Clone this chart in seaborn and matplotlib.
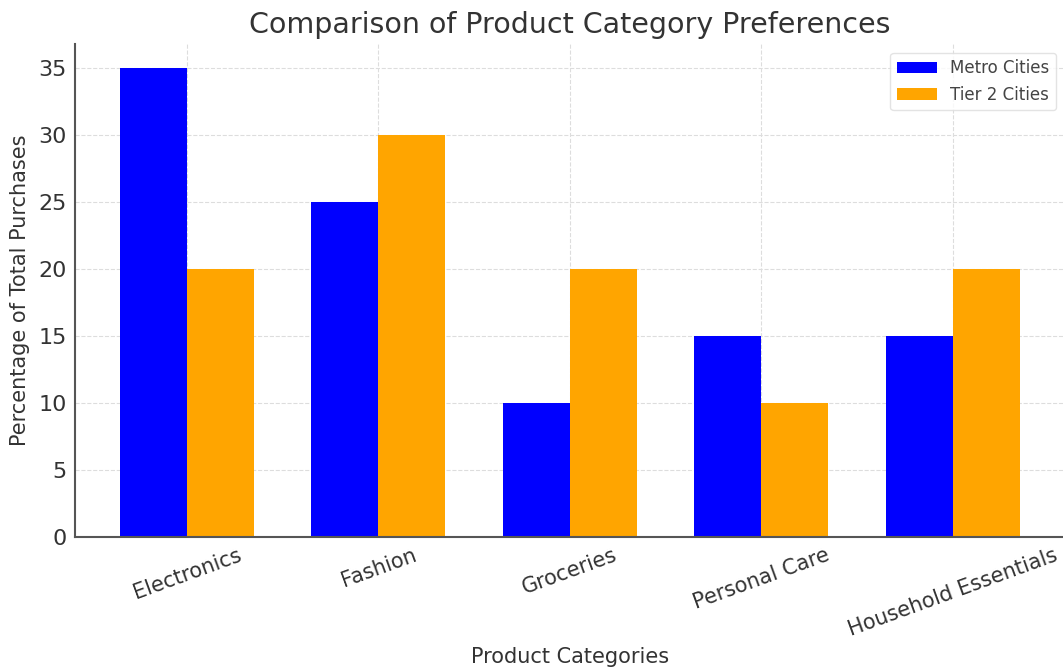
import pandas as pd
import matplotlib.pyplot as plt
import seaborn as sns

# data
categories = ["Electronics", "Fashion", "Groceries", "Personal Care", "Household Essentials"]
metro = [35, 25, 10, 15, 15]
tier2 = [20, 30, 20, 10, 20]

df = pd.DataFrame({
    "Category": categories * 2,
    "Percent": metro + tier2,
    "City": ["Metro Cities"] * len(categories) + ["Tier 2 Cities"] * len(categories),
})

sns.set_theme(style="whitegrid")
plt.rcParams["font.family"] = ["DejaVu Sans"]

fig = plt.figure(figsize=(10.63, 6.7), dpi=100)
ax = fig.add_axes([0.0706, 0.1985, 0.931, 0.7355])

sns.barplot(data=df, x="Category", y="Percent", hue="City",
            palette={"Metro Cities": "#0000FF", "Tier 2 Cities": "#FFA500"},
            width=0.7, saturation=1, linewidth=0, ax=ax, zorder=2)

ax.set_xlim(-0.585, 4.585)
ax.set_ylim(0, 36.75)
ax.set_yticks(range(0, 36, 5))
ax.grid(True, linestyle="--", color="#dddddd", linewidth=0.8, zorder=0)
ax.set_axisbelow(True)

for side in ["top", "right"]:
    ax.spines[side].set_visible(False)
for side in ["left", "bottom"]:
    ax.spines[side].set_color("#555555")
    ax.spines[side].set_linewidth(1.5)

ax.tick_params(axis="y", labelsize=16, colors="#333333", length=0, pad=6)
ax.tick_params(axis="x", labelsize=15, colors="#333333", length=0, pad=6)
plt.setp(ax.get_xticklabels(), rotation=20, ha="center")

ax.set_title("Comparison of Product Category Preferences", fontsize=20.5, color="#333333", pad=8)
ax.set_xlabel("Product Categories", fontsize=15, color="#333333", labelpad=5)
ax.set_ylabel("Percentage of Total Purchases", fontsize=15, color="#333333", labelpad=6)

leg = ax.legend(loc="upper right", fontsize=12, frameon=True, title=None,
                handlelength=2.4)
leg.get_frame().set_edgecolor("#dddddd")
for t in leg.get_texts():
    t.set_color("#444444")

fig.savefig("out.png", dpi=100)
